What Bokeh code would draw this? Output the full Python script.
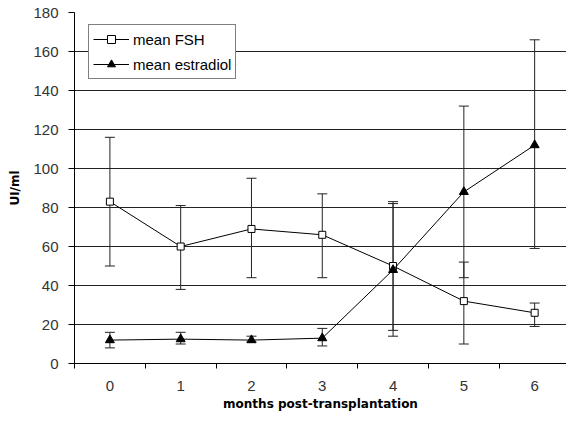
from bokeh.plotting import figure
from bokeh.models import (Range1d, FixedTicker, Whisker, ColumnDataSource,
                          Legend, LegendItem)
from bokeh.embed import file_html
from bokeh.resources import INLINE

# ---- data ----
months = [0, 1, 2, 3, 4, 5, 6]
fsh_mean = [83, 60, 69, 66, 50, 32, 26]
fsh_upper = [116, 81, 95, 87, 83, 52, 31]
fsh_lower = [50, 38, 44, 44, 17, 10, 19]
e2_mean = [12, 12.5, 12, 13, 48, 88, 112]
e2_upper = [16, 16, 14, 18, 82, 132, 166]
e2_lower = [8, 10, 11, 9, 14, 44, 59]
y_ticks = [0, 20, 40, 60, 80, 100, 120, 140, 160, 180]

FONT = "Liberation Sans"
BOLD = "DejaVu Sans"

p = figure(width=566, height=425, output_backend="svg", toolbar_location=None,
           x_range=Range1d(-0.5, 6.45), y_range=Range1d(0, 180),
           min_border_left=74, min_border_right=0, min_border_top=12,
           min_border_bottom=62)
p.outline_line_color = None
p.background_fill_color = "white"

# grid
p.xgrid.grid_line_color = None
p.ygrid.grid_line_color = "#222222"
p.ygrid.grid_line_width = 1
p.ygrid.ticker = FixedTicker(ticks=y_ticks)

# x axis
p.xaxis.ticker = FixedTicker(ticks=months,
                             minor_ticks=[m - 0.5 for m in months] + [6.5])
p.xaxis.major_tick_line_color = None
p.xaxis.minor_tick_line_color = "black"
p.xaxis.minor_tick_out = 5
p.xaxis.minor_tick_in = 0
p.xaxis.axis_line_color = "black"
p.xaxis.major_label_standoff = 11
p.xaxis.major_label_text_font = FONT
p.xaxis.major_label_text_font_size = "15px"
p.xaxis.major_label_text_color = "#333333"
p.xaxis.axis_label = "months post-transplantation"
p.xaxis.axis_label_text_font = BOLD
p.xaxis.axis_label_text_font_style = "bold"
p.xaxis.axis_label_text_font_size = "12px"
p.xaxis.axis_label_text_color = "black"
p.xaxis.axis_label_standoff = 3

# y axis
p.yaxis.ticker = FixedTicker(ticks=y_ticks, minor_ticks=[])
p.yaxis.major_tick_out = 6
p.yaxis.major_tick_in = 0
p.yaxis.major_tick_line_color = "black"
p.yaxis.axis_line_color = "black"
p.yaxis.major_label_standoff = 10
p.yaxis.major_label_text_font = FONT
p.yaxis.major_label_text_font_size = "15px"
p.yaxis.major_label_text_color = "#333333"
p.yaxis.axis_label = "UI/ml"
p.yaxis.axis_label_text_font = BOLD
p.yaxis.axis_label_text_font_style = "bold"
p.yaxis.axis_label_text_font_size = "12px"
p.yaxis.axis_label_text_color = "black"
p.yaxis.axis_label_standoff = 8

fsh_src = ColumnDataSource(dict(x=months, y=fsh_mean, up=fsh_upper, lo=fsh_lower))
e2_src = ColumnDataSource(dict(x=months, y=e2_mean, up=e2_upper, lo=e2_lower))

for src in (fsh_src, e2_src):
    w = Whisker(base="x", upper="up", lower="lo", source=src,
                line_color="#222222", line_width=1)
    w.upper_head.size = 10
    w.lower_head.size = 10
    w.upper_head.line_color = "#222222"
    w.lower_head.line_color = "#222222"
    p.add_layout(w)

fsh_line = p.line("x", "y", source=fsh_src, line_color="black", line_width=1)
fsh_pts = p.scatter("x", "y", source=fsh_src, marker="square", size=7,
                    fill_color="white", line_color="black", line_width=1)
e2_line = p.line("x", "y", source=e2_src, line_color="black", line_width=1)
e2_pts = p.scatter("x", "y", source=e2_src, marker="triangle", size=9,
                   fill_color="black", line_color="black")

legend = Legend(items=[
    LegendItem(label="mean FSH", renderers=[fsh_line, fsh_pts]),
    LegendItem(label="mean estradiol", renderers=[e2_line, e2_pts]),
], location=(14, 284))
legend.label_text_font = FONT
legend.label_text_font_size = "15px"
legend.label_text_color = "black"
legend.border_line_color = "black"
legend.border_line_width = 1
legend.background_fill_color = "white"
legend.background_fill_alpha = 1
legend.glyph_width = 36
legend.glyph_height = 20
legend.label_standoff = 4
legend.spacing = 5
legend.padding = 4
legend.margin = 0
legend.label_height = 20
p.add_layout(legend, "center")

open("out.html", "w").write(file_html(p, INLINE))
